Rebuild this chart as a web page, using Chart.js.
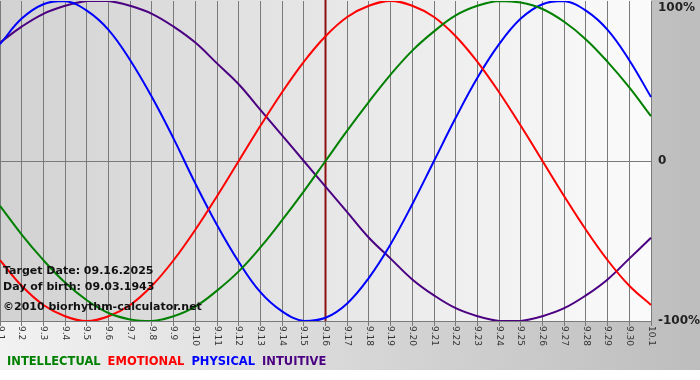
<!DOCTYPE html>
<html lang="en">
<head>
    <meta charset="UTF-8">
    <title>Biorhythm chart</title>
    <script src="https://cdn.jsdelivr.net/npm/chart.js"></script>
    <style>
        body {
            margin: 0;
            background-color: #fff;
        }
        canvas {
            display: block;
        }
    </style>
</head>
<body>
    <canvas id="bioChart" width="700" height="380"></canvas>

    <script>
        // Days shown on the x axis
        const dayLabels = ['9.1', '9.2', '9.3', '9.4', '9.5', '9.6', '9.7', '9.8', '9.9', '9.10',
            '9.11', '9.12', '9.13', '9.14', '9.15', '9.16', '9.17', '9.18', '9.19', '9.20',
            '9.21', '9.22', '9.23', '9.24', '9.25', '9.26', '9.27', '9.28', '9.29', '9.30', '10.1'];

        // Cycle values in percent, one per day
        const intellectual = [-28, -46, -62, -76, -87, -95, -99, -100, -97, -91, -81, -69, -54, -37, -19,
            0, 19, 37, 54, 69, 81, 91, 97, 100, 99, 95, 87, 76, 62, 46, 28];
        const emotional = [-62, -78, -90, -97, -100, -97, -90, -78, -62, -43, -22, 0, 22, 43, 62,
            78, 90, 97, 100, 97, 90, 78, 62, 43, 22, 0, -22, -43, -62, -78, -90];
        const physical = [73, 89, 98, 100, 94, 82, 63, 40, 14, -14, -40, -63, -82, -94, -100,
            -98, -89, -73, -52, -27, 0, 27, 52, 73, 89, 98, 100, 94, 82, 63, 40];
        const intuitive = [74, 84, 92, 97, 100, 100, 97, 92, 84, 74, 61, 48, 32, 16, 0,
            -16, -32, -48, -61, -74, -84, -92, -97, -100, -100, -97, -92, -84, -74, -61, -48];

        const seriesNames = ['INTELLECTUAL', 'EMOTIONAL', 'PHYSICAL', 'INTUITIVE'];
        const seriesColors = ['#008000', '#ff0000', '#0000ff', '#4b0082'];

        const yTickValues = [100, 0, -100];
        const yTickLabels = ['100%', '0', '-100%'];

        const targetDay = '9.16';
        const infoLines = ['Target Date: 09.16.2025', 'Day of birth: 09.03.1943', '\u00a92010 biorhythm-calculator.net'];

        // Backgrounds, target marker, tick labels, info text and legend
        const decorPlugin = {
            id: 'decor',
            beforeDraw(chart) {
                const ctx = chart.ctx;
                const area = chart.chartArea;
                ctx.save();
                ctx.fillStyle = '#fff';
                ctx.fillRect(0, 0, chart.width, chart.height);
                const outer = ctx.createLinearGradient(0, 0, chart.width, 0);
                outer.addColorStop(0, '#f2f2f2');
                outer.addColorStop(1, '#bdbdbd');
                ctx.fillStyle = outer;
                ctx.fillRect(0, 0, chart.width, 370);
                const inner = ctx.createLinearGradient(area.left, 0, area.right, 0);
                inner.addColorStop(0, '#d2d2d2');
                inner.addColorStop(1, '#fbfbfb');
                ctx.fillStyle = inner;
                ctx.fillRect(area.left, area.top - 1, area.right - area.left, area.bottom - area.top + 1);
                ctx.restore();
            },
            beforeDatasetsDraw(chart) {
                const ctx = chart.ctx;
                const xs = chart.scales.x;
                const area = chart.chartArea;
                const x = xs.getPixelForValue(dayLabels.indexOf(targetDay));
                ctx.save();
                ctx.strokeStyle = '#8b1010';
                ctx.lineWidth = 2;
                ctx.beginPath();
                ctx.moveTo(x, area.top - 1);
                ctx.lineTo(x, area.bottom);
                ctx.stroke();
                ctx.restore();
            },
            afterDraw(chart) {
                const ctx = chart.ctx;
                const xs = chart.scales.x;
                const ys = chart.scales.y;
                const area = chart.chartArea;
                ctx.save();

                // rotated day labels, reading top to bottom
                ctx.fillStyle = '#333';
                ctx.font = '9px "DejaVu Sans"';
                ctx.textAlign = 'left';
                ctx.textBaseline = 'middle';
                dayLabels.forEach((lab, i) => {
                    ctx.save();
                    ctx.translate(xs.getPixelForTick(i), area.bottom + 5);
                    ctx.rotate(Math.PI / 2);
                    ctx.fillText(lab, 0, 0);
                    ctx.restore();
                });

                // percent labels on the right
                ctx.fillStyle = '#222';
                ctx.font = 'bold 12px "DejaVu Sans"';
                yTickValues.forEach((v, i) => {
                    ctx.textBaseline = v === 100 ? 'top' : 'middle';
                    ctx.fillText(yTickLabels[i], area.right + 7, ys.getPixelForValue(v) + (v === 100 ? 1 : 0));
                });

                // info block
                ctx.font = 'bold 11px "DejaVu Sans"';
                ctx.fillStyle = '#111';
                ctx.textBaseline = 'middle';
                ctx.fillText(infoLines[0], 3, 271);
                ctx.fillText(infoLines[1], 3, 287);
                ctx.fillText(infoLines[2], 3, 307);

                // legend
                ctx.font = 'bold 11.5px "DejaVu Sans"';
                let lx = 7;
                seriesNames.forEach((name, i) => {
                    ctx.fillStyle = seriesColors[i];
                    ctx.fillText(name, lx, 362);
                    lx += ctx.measureText(name).width + 7;
                });
                ctx.restore();
            }
        };

        const chartContext = document.getElementById('bioChart').getContext('2d');
        const seriesData = [intellectual, emotional, physical, intuitive];

        window.bioChart = new Chart(chartContext, {
            type: 'line',
            data: {
                labels: dayLabels,
                datasets: seriesNames.map((name, i) => ({
                    label: name,
                    data: seriesData[i],
                    borderColor: seriesColors[i],
                    borderWidth: 2,
                    pointRadius: 0,
                    tension: 0.4,
                    fill: false
                }))
            },
            options: {
                responsive: false,
                animation: false,
                layout: {
                    padding: { left: 0, right: 49, top: 1, bottom: 54 }
                },
                plugins: {
                    legend: { display: false },
                    tooltip: { enabled: false }
                },
                scales: {
                    x: {
                        offset: false,
                        grid: {
                            color: '#7a7a7a',
                            drawTicks: true,
                            tickLength: 5
                        },
                        border: { display: true, color: '#7a7a7a' },
                        ticks: { display: false },
                        afterFit(scale) { scale.height = 5; }
                    },
                    y: {
                        min: -100,
                        max: 100,
                        ticks: { display: false, stepSize: 100 },
                        grid: {
                            drawTicks: false,
                            color: c => (c.tick && c.tick.value === 0 ? '#7a7a7a' : 'rgba(0,0,0,0)')
                        },
                        border: { display: false },
                        afterFit(scale) { scale.width = 0; }
                    }
                }
            },
            plugins: [decorPlugin]
        });
    </script>
</body>
</html>
